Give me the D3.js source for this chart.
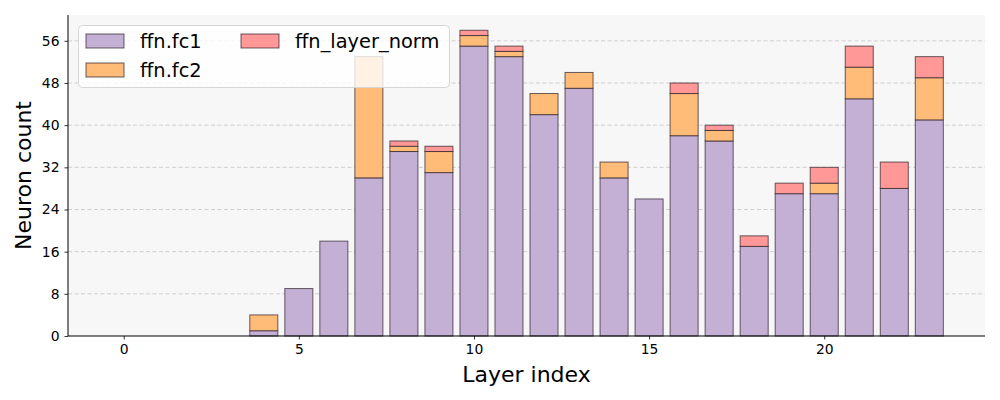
<!DOCTYPE html>
<html>
<head>
<meta charset="utf-8">
<script src="https://cdn.jsdelivr.net/npm/d3@7"></script>
<style>
  html, body { margin: 0; padding: 0; background: #ffffff; }
  svg { display: block; font-family: "DejaVu Sans", sans-serif; }
</style>
</head>
<body>
<svg id="chart" width="1000" height="400"></svg>
<script>
// ---- Data ----
const layers = d3.range(0, 24);
const fc1 =  [0,0,0,0,1,9,18,30,35,31,55,53,42,47,30,26,38,37,17,27,27,45,28,41];
const fc2 =  [0,0,0,0,3,0,0,23,1,4,2,1,4,3,3,0,8,2,0,0,2,6,0,8];
const lnorm = [0,0,0,0,0,0,0,0,1,1,1,1,0,0,0,0,2,1,2,2,3,4,5,4];
const seriesNames = ["ffn.fc1", "ffn.fc2", "ffn_layer_norm"];
const seriesColors = ["#c5b0d5", "#ffbb78", "#ff9896"];
const yTicks = [0, 8, 16, 24, 32, 40, 48, 56];
const xTicks = [0, 5, 10, 15, 20];

// ---- Layout ----
const svg = d3.select("#chart");
const margin = { left: 68, right: 15, top: 15, bottom: 64 };
const W = 1000, H = 400;
const x0 = margin.left, x1 = W - margin.right;
const y0 = H - margin.bottom, y1 = margin.top;

const table = layers.map((l, i) => ({ layer: l, "ffn.fc1": fc1[i], "ffn.fc2": fc2[i], "ffn_layer_norm": lnorm[i] }));
const stacked = d3.stack().keys(seriesNames)(table);
const maxTotal = d3.max(table, d => d["ffn.fc1"] + d["ffn.fc2"] + d["ffn_layer_norm"]);

const barW = 0.8;
const xmin = -barW / 2, xmax = layers.length - 1 + barW / 2;
const xpad = (xmax - xmin) * 0.05;
const x = d3.scaleLinear().domain([xmin - xpad, xmax + xpad]).range([x0, x1]);
const y = d3.scaleLinear().domain([0, maxTotal * 1.05]).range([y0, y1]);

// background
svg.append("rect").attr("x", x0).attr("y", y1).attr("width", x1 - x0).attr("height", y0 - y1).attr("fill", "#f7f7f7");

// grid
svg.append("g").selectAll("line").data(yTicks.filter(t => t > 0)).join("line")
  .attr("x1", x0).attr("x2", x1)
  .attr("y1", d => y(d)).attr("y2", d => y(d))
  .attr("stroke", "#cfcfcf").attr("stroke-width", 1)
  .attr("stroke-dasharray", "4,2.5");

// bars
const gBars = svg.append("g");
stacked.forEach((s, si) => {
  gBars.append("g").selectAll("rect").data(s.filter(d => d[1] - d[0] > 0)).join("rect")
    .attr("x", d => x(d.data.layer - barW / 2))
    .attr("width", d => x(barW) - x(0))
    .attr("y", d => y(d[1]))
    .attr("height", d => y(d[0]) - y(d[1]))
    .attr("fill", seriesColors[si])
    .attr("stroke", "rgba(40,30,40,0.7)")
    .attr("stroke-width", 1);
});

// axes
const gx = svg.append("g").attr("transform", `translate(0,${y0})`)
  .call(d3.axisBottom(x).tickValues(xTicks).tickFormat(d3.format("d")).tickSize(3.5).tickPadding(5));
const gy = svg.append("g").attr("transform", `translate(${x0},0)`)
  .call(d3.axisLeft(y).tickValues(yTicks).tickFormat(d3.format("d")).tickSize(3.5).tickPadding(5));
[gx, gy].forEach(g => {
  g.selectAll("text").attr("font-size", "13.9px").attr("fill", "#000").attr("font-family", "DejaVu Sans");
  g.selectAll("line").attr("stroke", "#000").attr("stroke-width", 0.8);
  g.select(".domain").remove();
});
svg.append("line").attr("x1", x0).attr("x2", x1).attr("y1", y0).attr("y2", y0).attr("stroke", "#000").attr("stroke-width", 1);
svg.append("line").attr("x1", x0).attr("x2", x0).attr("y1", y0).attr("y2", y1).attr("stroke", "#000").attr("stroke-width", 1);

// axis labels
svg.append("text").attr("x", (x0 + x1) / 2).attr("y", 382)
  .attr("text-anchor", "middle").attr("font-size", "22px").text("Layer index");
svg.append("text").attr("transform", `translate(31,${(y0 + y1) / 2}) rotate(-90)`)
  .attr("text-anchor", "middle").attr("font-size", "22px").text("Neuron count");

// legend
const lg = svg.append("g");
lg.append("rect").attr("x", 78.5).attr("y", 25.5).attr("width", 371).attr("height", 62)
  .attr("rx", 4).attr("fill", "rgba(255,255,255,0.8)").attr("stroke", "#d6d6d6").attr("stroke-width", 1);
const legPos = [[86, 34], [86, 63], [241, 34]];
seriesNames.forEach((n, i) => {
  const [px, py] = legPos[i];
  lg.append("rect").attr("x", px).attr("y", py).attr("width", 38).attr("height", 14)
    .attr("fill", seriesColors[i]).attr("stroke", "rgba(40,30,40,0.7)").attr("stroke-width", 1);
  lg.append("text").attr("x", px + 54).attr("y", py + 14).attr("font-size", "19.4px").text(n);
});
</script>
</body>
</html>
